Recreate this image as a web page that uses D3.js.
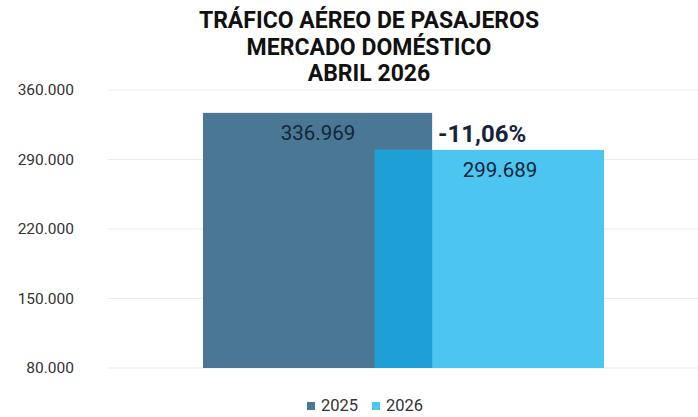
<!DOCTYPE html>
<html>
<head>
<meta charset="utf-8">
<script src="https://cdn.jsdelivr.net/npm/d3@7.9.0/dist/d3.min.js"></script>
<style>
  body { margin: 0; background: #fff; }
  svg { display: block; font-family: Roboto, "Noto Sans", sans-serif; }
</style>
</head>
<body>
<svg width="698" height="417"></svg>
<script>
// datos del gráfico
const titleLines = ["TRÁFICO AÉREO DE PASAJEROS", "MERCADO DOMÉSTICO", "ABRIL 2026"];
const years = ["2025", "2026"];
const passengers = [336969, 299689];
const colors = ["#4a7894", "#4cc6f0"];
const overlapColor = "#1e9fd6";
const changeLabel = "-11,06%";
const yTicks = [80000, 150000, 220000, 290000, 360000];

const svg = d3.select("svg");
const fmt = d3.formatLocale({ decimal: ",", thousands: ".", grouping: [3] }).format(",d");

// escalas
const y = d3.scaleLinear().domain([80000, 360000]).range([368, 90]);
// barras superpuestas: cada año desplazado sobre un eje continuo
const x = d3.scaleLinear().domain([0, 1.75]).range([203, 604]);
const barStart = [0, 0.75];
const barWidth = 1;

// título
svg.append("text")
  .attr("x", 369).attr("y", 28)
  .attr("text-anchor", "middle")
  .attr("font-weight", "bold")
  .attr("font-size", 23)
  .attr("fill", "#111")
  .selectAll("tspan").data(titleLines).join("tspan")
  .attr("x", 369)
  .attr("dy", (d, i) => i === 0 ? 0 : 26.5)
  .text(d => d);

// cuadrícula
svg.append("g")
  .selectAll("line").data(yTicks).join("line")
  .attr("x1", 108).attr("x2", 698)
  .attr("y1", d => y(d)).attr("y2", d => y(d))
  .attr("stroke", "#ebebeb").attr("stroke-width", 1);

// eje y
const yAxis = svg.append("g")
  .attr("transform", "translate(74,0)")
  .call(d3.axisLeft(y).tickValues(yTicks).tickFormat(fmt).tickSize(0).tickPadding(0));
yAxis.select(".domain").remove();
yAxis.selectAll("text")
  .attr("font-family", "Roboto, sans-serif")
  .attr("font-size", 15.5)
  .attr("fill", "#333");

// barras
svg.append("g")
  .selectAll("rect").data(passengers).join("rect")
  .attr("x", (d, i) => x(barStart[i]))
  .attr("width", x(barWidth) - x(0))
  .attr("y", d => y(d))
  .attr("height", d => y(80000) - y(d))
  .attr("fill", (d, i) => colors[i]);

// zona de superposición
const ovTop = d3.min(passengers);
svg.append("rect")
  .attr("x", x(barStart[1]))
  .attr("width", x(barStart[0] + barWidth) - x(barStart[1]))
  .attr("y", y(ovTop))
  .attr("height", y(80000) - y(ovTop))
  .attr("fill", overlapColor);

// etiquetas de valor
const labelX = [318, 500];
svg.append("g")
  .selectAll("text").data(passengers).join("text")
  .attr("x", (d, i) => labelX[i])
  .attr("y", d => y(d) + 27)
  .attr("text-anchor", "middle")
  .attr("font-size", 20.5)
  .attr("fill", "#14253a")
  .text(d => fmt(d));

// variación
svg.append("text")
  .attr("x", 438)
  .attr("y", y(passengers[0]) + 29)
  .attr("font-size", 24)
  .attr("font-weight", "bold")
  .attr("fill", "#14253a")
  .text(changeLabel);

// leyenda
const legend = svg.append("g").attr("transform", "translate(307,398)");
const item = legend.selectAll("g").data(years).join("g")
  .attr("transform", (d, i) => `translate(${i * 65},0)`);
item.append("rect")
  .attr("width", 8).attr("height", 8)
  .attr("y", 4)
  .attr("fill", (d, i) => colors[i]);
item.append("text")
  .attr("x", 14).attr("y", 12.5)
  .attr("font-size", 16.5)
  .attr("fill", "#333")
  .text(d => d);
</script>
</body>
</html>
